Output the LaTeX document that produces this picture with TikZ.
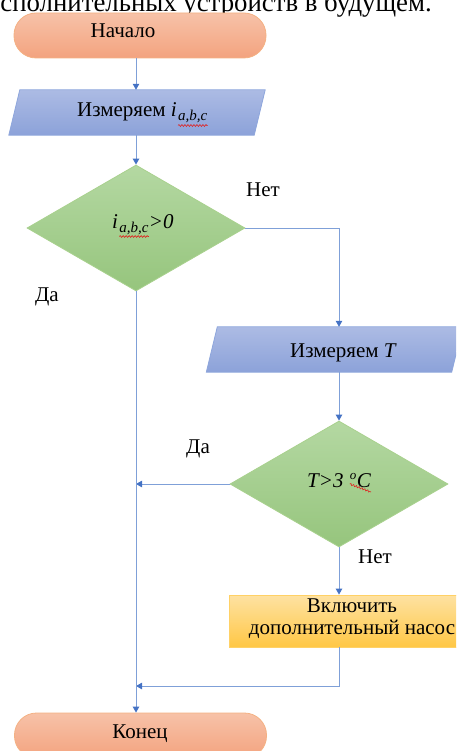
\documentclass[tikz,border=0pt]{standalone}
\usepackage{fontspec}
\setmainfont{Liberation Serif}
\usetikzlibrary{arrows.meta,shapes.geometric,decorations.pathmorphing,calc}

\definecolor{lineblue}{HTML}{7FA0D8}
\definecolor{tipblue}{HTML}{4472C4}
\definecolor{termTop}{HTML}{F7C2A8}
\definecolor{termBot}{HTML}{F3A37F}
\definecolor{termEdge}{HTML}{F4B183}
\definecolor{ioTop}{HTML}{ACBBE4}
\definecolor{ioBot}{HTML}{8CA2D9}
\definecolor{ioEdge}{HTML}{8EA6DC}
\definecolor{decTop}{HTML}{B4D8A2}
\definecolor{decBot}{HTML}{96C57D}
\definecolor{decEdge}{HTML}{A9D18E}
\definecolor{actTop}{HTML}{FEE2A2}
\definecolor{actBot}{HTML}{FFC745}
\definecolor{actEdge}{HTML}{FFD166}
\definecolor{spell}{HTML}{E0201E}

\tikzset{
  terminal/.style={draw=termEdge, line width=0.8pt, rounded corners=22pt,
    top color=termTop, bottom color=termBot,
    minimum width=252pt, minimum height=45pt, inner sep=0pt},
  % frame of an input/output block; the slanted outline is drawn from its corners
  ioframe/.style={rectangle, minimum width=245pt, minimum height=45pt, inner sep=0pt},
  ioshape/.style={draw=ioEdge, line width=0.8pt, top color=ioTop, bottom color=ioBot},
  decision/.style={diamond, draw=decEdge, line width=0.8pt,
    top color=decTop, bottom color=decBot,
    minimum width=218pt, minimum height=126pt, inner sep=0pt},
  action/.style={draw=actEdge, line width=0.8pt,
    top color=actTop, bottom color=actBot,
    minimum width=246pt, minimum height=52pt, inner sep=0pt},
  txt/.style={inner sep=0pt, font=\fontsize{21}{22}\selectfont},
  itxt/.style={inner sep=0pt, font=\fontsize{21}{22}\selectfont\itshape},
  subtxt/.style={inner sep=0pt, font=\fontsize{15}{16}\selectfont\itshape},
  conn/.style={draw=lineblue, line width=1pt},
  arr/.style={conn, -{Triangle[length=6pt,width=6.5pt,color=tipblue]}},
  wavy/.style={draw=spell, line width=0.6pt,
    decorate, decoration={snake, amplitude=0.9pt, segment length=3pt}}
}

\newcommand{\slanted}[2]{% #1 = frame node, #2 = half of the horizontal slant
  \path[ioshape] ($(#1.north west)+(#2,0)$) -- ($(#1.north east)+(#2,0)$)
    -- ($(#1.south east)+(-#2,0)$) -- ($(#1.south west)+(-#2,0)$) -- cycle;}

\begin{document}
% y grows downwards: (0,4) is 4pt lower
\begin{tikzpicture}[x=1pt,y=-1pt]
\useasboundingbox (0,0) rectangle (456,751);
\clip (0,0) rectangle (456,751);

% running text of the page above the chart
\node[inner sep=0pt, anchor=base east, font=\fontsize{26.8}{30}\selectfont]
  (para) at (432,11.5) {исполнительных устройств в будущем.};

% blocks
\node[terminal] (start) at (140,35.5) {};
\node[ioframe]  (meas1) at (137,112.5) {};
\slanted{meas1}{5.5}
\node[decision] (dec1)  at (136,228) {};
\node[ioframe]  (meas2) at (334.5,349.5) {};
\slanted{meas2}{5.5}
\node[decision] (dec2)  at (339,484) {};
\node[action]   (act)   at (352,621) {};
\node[terminal] (stop)  at (140.5,735.5) {};

% block texts
\node[txt] (startT) at (123,31) {Начало};
\node[txt, anchor=base west] (m1a) at (77,117) {Измеряем \textit{i}};
\node[subtxt, anchor=base west] (m1b) at ($(m1a.base east)+(1,4)$) {a,b,c};
\draw[wavy] ($(m1b.south west)+(0,2)$) -- ($(m1b.south east)+(0,2)$);

\node[itxt, anchor=base west] (d1a) at (112,229) {i};
\node[subtxt, anchor=base west] (d1b) at ($(d1a.base east)+(1,3)$) {a,b,c};
\node[itxt, anchor=base west] (d1c) at ($(d1b.base east)+(0,-3)$) {>0};
\draw[wavy] ($(d1b.south west)+(0,2)$) -- ($(d1b.south east)+(0,2)$);

\node[txt, anchor=base] (m2T) at (343.5,357.5) {Измеряем \textit{T}};

\node[itxt, anchor=base west] (d2a) at (307,487) {T>3};
\node[subtxt, anchor=base west, font=\fontsize{13}{14}\selectfont\itshape] (d2b) at ($(d2a.base east)+(6,-8)$) {o};
\node[itxt, anchor=base west] (d2c) at ($(d2b.base east)+(0,8)$) {C};
\draw[wavy] ($(d2b.base west)+(0,5)$) -- ($(d2c.base east)+(0,5)$);

\node[txt, align=center] (actT) at (352,619) {Включить\\дополнительный насос};
\node[txt] (stopT) at (140,734) {Конец};

% branch labels
\node[txt] (no1)  at (263,190) {Нет};
\node[txt] (yes1) at (47,297) {Да};
\node[txt] (yes2) at (198,449) {Да};
\node[txt] (no2)  at (375,557) {Нет};

% connectors
\coordinate (join) at (136,686);
\draw[arr] (start.south -| dec1.north) -- (meas1.north -| dec1.north);
\draw[arr] (meas1.south -| dec1.north) -- (dec1.north);
\draw[arr] (dec1.east) -| (meas2.north -| dec2.north);
\draw[arr] (meas2.south -| dec2.north) -- (dec2.north);
\draw[arr] (dec2.south) -- (act.north -| dec2.south);
\draw[arr] (dec2.west) -- (dec2.west -| dec1.south);
\draw[arr] (act.south -| dec2.south) |- (join);
\draw[arr] (dec1.south) -- (stop.north -| dec1.south);
\end{tikzpicture}
\end{document}
